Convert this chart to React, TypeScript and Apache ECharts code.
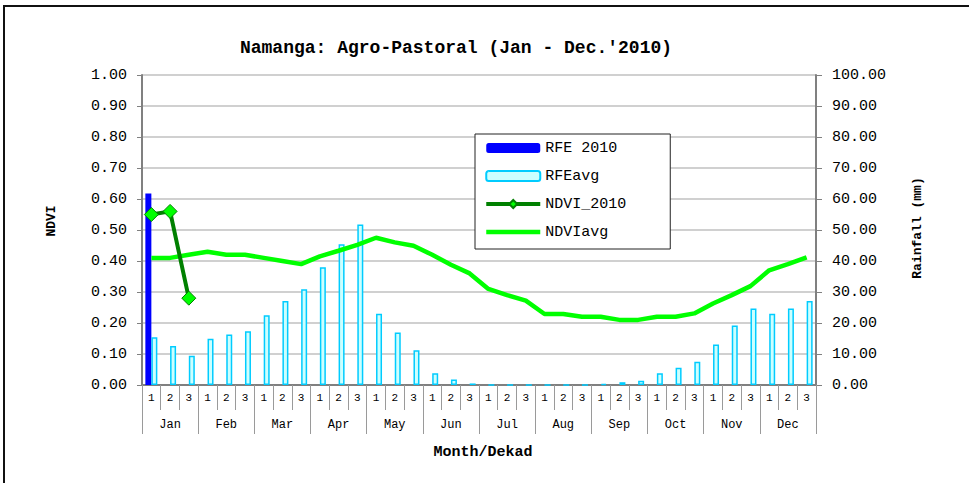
import React, { useEffect, useRef } from "react";
import * as echarts from "echarts";

const months = ["Jan", "Feb", "Mar", "Apr", "May", "Jun", "Jul", "Aug", "Sep", "Oct", "Nov", "Dec"];
const dekads = ["1", "2", "3"];

const rfe2010 = [61.8, null, null, null, null, null, null, null, null, null, null, null,
  null, null, null, null, null, null, null, null, null, null, null, null,
  null, null, null, null, null, null, null, null, null, null, null, null];
const rfeAvg = [15.4, 12.6, 9.4, 14.9, 16.3, 17.3, 22.5, 27.1, 30.9, 38.0, 45.4, 51.8,
  23.0, 16.9, 11.2, 3.8, 1.8, 0.5, 0, 0, 0, 0, 0, 0,
  0.4, 0.9, 1.4, 3.8, 5.6, 7.5, 13.1, 19.2, 24.7, 23.0, 24.7, 27.1];
const ndvi2010 = [0.55, 0.56, 0.28, null, null, null, null, null, null, null, null, null,
  null, null, null, null, null, null, null, null, null, null, null, null,
  null, null, null, null, null, null, null, null, null, null, null, null];
const ndviAvg = [0.41, 0.41, 0.42, 0.43, 0.42, 0.42, 0.41, 0.40, 0.39, 0.415, 0.433, 0.452,
  0.475, 0.46, 0.449, 0.42, 0.388, 0.36, 0.31, 0.29, 0.272, 0.229, 0.229, 0.22,
  0.22, 0.21, 0.21, 0.22, 0.22, 0.231, 0.263, 0.29, 0.319, 0.37, 0.39, 0.412];

const FONT = "'Courier New', 'Liberation Mono', monospace";

export default function App() {
  const ref = useRef<HTMLDivElement>(null);
  useEffect(() => {
    if (!ref.current) return;
    const chart = echarts.init(ref.current, null, { renderer: "svg" });
    const dekadCats = months.flatMap((m) => dekads.map((d) => m + "-" + d));
    const option: any = {
      animation: false,
      backgroundColor: "#ffffff",
      textStyle: { fontFamily: FONT },
      graphic: [
        {
          type: "rect",
          shape: { x: 4, y: 6, width: 1100, height: 700 },
          style: { fill: "none", stroke: "#111", lineWidth: 2 },
          silent: true,
        },
        {
          type: "text",
          x: 456,
          y: 48,
          style: {
            text: "Namanga: Agro-Pastoral (Jan - Dec.'2010)",
            font: "bold 18px " + FONT,
            fill: "#000",
            align: "center",
            verticalAlign: "middle",
          },
        },
        {
          type: "text",
          x: 51,
          y: 221,
          rotation: Math.PI / 2,
          style: {
            text: "NDVI",
            font: "bold 13px " + FONT,
            fill: "#000",
            align: "center",
            verticalAlign: "middle",
          },
        },
        {
          type: "text",
          x: 917,
          y: 228,
          rotation: Math.PI / 2,
          style: {
            text: "Rainfall (mm)",
            font: "bold 13px " + FONT,
            fill: "#000",
            align: "center",
            verticalAlign: "middle",
          },
        },
        {
          type: "text",
          x: 483,
          y: 452,
          style: {
            text: "Month/Dekad",
            font: "bold 15px " + FONT,
            fill: "#000",
            align: "center",
            verticalAlign: "middle",
          },
        },
      ],
      legend: {
        left: 475,
        top: 134,
        orient: "vertical",
        data: [
          { name: "RFE 2010" },
          { name: "RFEavg" },
          { name: "NDVI_2010", lineStyle: { width: 4, color: "#008000" } },
          { name: "NDVIavg", lineStyle: { width: 4.5, color: "#00ff00" }, itemStyle: { opacity: 0 } },
        ],
        itemWidth: 54,
        itemHeight: 10,
        itemGap: 12,
        padding: [6, 44, 9, 9],
        backgroundColor: "#fff",
        borderColor: "#222",
        borderWidth: 1,
        borderRadius: 0,
        textStyle: { fontFamily: FONT, fontSize: 15, color: "#000", lineHeight: 16 },
      },
      grid: { left: 142, top: 75, width: 674, height: 310, containLabel: false },
      xAxis: [
        {
          type: "category",
          data: dekadCats,
          boundaryGap: true,
          axisLine: { show: true, lineStyle: { color: "#808080", width: 2 } },
          axisTick: { show: true, interval: 0, length: 25, lineStyle: { color: "#9a9a9a", width: 1 } },
          axisLabel: {
            interval: 0,
            margin: 7,
            fontSize: 11,
            color: "#000",
            fontFamily: FONT,
            formatter: (v: string) => v.split("-")[1],
          },
          splitLine: { show: false },
        },
        {
          type: "category",
          data: months,
          position: "bottom",
          boundaryGap: true,
          axisLine: { show: true, lineStyle: { color: "#808080", width: 2 } },
          axisTick: { show: true, interval: 0, length: 49, lineStyle: { color: "#9a9a9a", width: 1 } },
          axisLabel: { interval: 0, margin: 34, fontSize: 12, color: "#000", fontFamily: FONT },
          splitLine: { show: false },
        },
      ],
      yAxis: [
        {
          type: "value",
          min: 0,
          max: 1,
          interval: 0.1,
          position: "left",
          axisLine: { show: true, lineStyle: { color: "#808080", width: 2 } },
          axisTick: { show: true, length: 5, lineStyle: { color: "#808080" } },
          axisLabel: {
            margin: 15,
            fontSize: 15,
            color: "#000",
            fontFamily: FONT,
            formatter: (v: number) => v.toFixed(2),
          },
          splitLine: { show: true, lineStyle: { color: "#c0c0c0", width: 1.5 } },
        },
        {
          type: "value",
          min: 0,
          max: 100,
          interval: 10,
          position: "right",
          axisLine: { show: true, lineStyle: { color: "#808080", width: 2 } },
          axisTick: { show: true, length: 6, lineStyle: { color: "#808080" } },
          axisLabel: {
            margin: 16,
            fontSize: 15,
            color: "#000",
            fontFamily: FONT,
            formatter: (v: number) => v.toFixed(2),
          },
          splitLine: { show: false },
        },
      ],
      series: [
        {
          name: "RFE 2010",
          type: "bar",
          xAxisIndex: 0,
          yAxisIndex: 1,
          data: rfe2010,
          barWidth: 6,
          barGap: "0%",
          itemStyle: { color: "#0000ff" },
        },
        {
          name: "RFEavg",
          type: "bar",
          xAxisIndex: 0,
          yAxisIndex: 1,
          data: rfeAvg,
          barWidth: 6,
          barGap: "0%",
          itemStyle: { color: "#ccffff", borderColor: "#00ccff", borderWidth: 1.5 },
        },
        {
          name: "NDVIavg",
          type: "line",
          xAxisIndex: 0,
          yAxisIndex: 0,
          data: ndviAvg,
          symbol: "none",
          lineStyle: { color: "#00ff00", width: 4.5 },
          itemStyle: { color: "#00ff00" },
        },
        {
          name: "NDVI_2010",
          type: "line",
          xAxisIndex: 0,
          yAxisIndex: 0,
          data: ndvi2010,
          symbol: "diamond",
          symbolSize: 14,
          lineStyle: { color: "#008000", width: 4 },
          itemStyle: { color: "#00ff00", borderColor: "#008000", borderWidth: 1 },
        },
      ],
    };
    chart.setOption(option);
    return () => chart.dispose();
  }, []);
  return (
    <div
      ref={ref}
      style={{ position: "absolute", left: 0, top: 0, width: 969, height: 483 }}
    />
  );
}
